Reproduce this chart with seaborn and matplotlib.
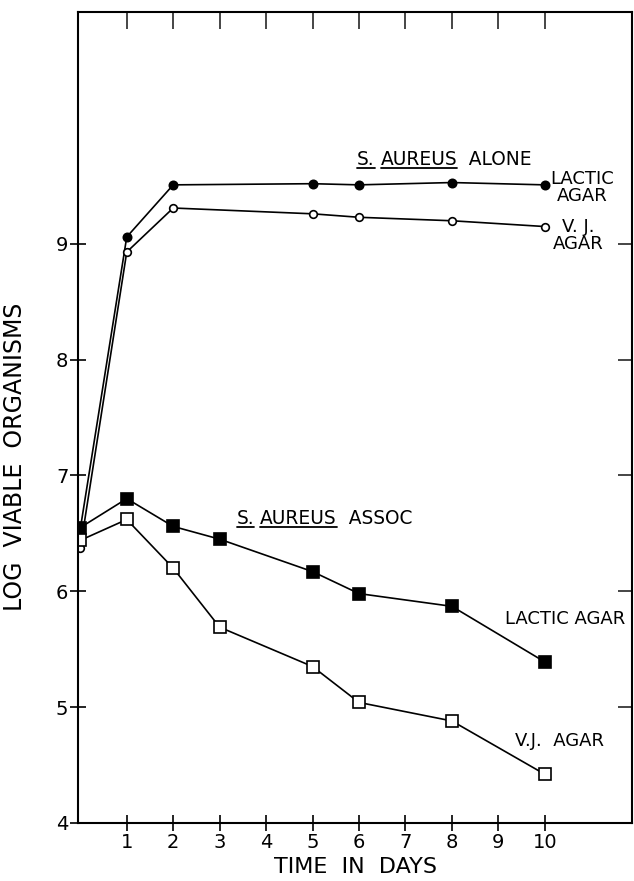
import numpy as np
import pandas as pd
import seaborn as sns
import matplotlib.pyplot as plt
from matplotlib.lines import Line2D

# data
days_alone = [0, 1, 2, 5, 6, 8, 10]
alone_lactic = [6.54, 9.06, 9.51, 9.52, 9.51, 9.53, 9.51]
alone_vj = [6.37, 8.93, 9.31, 9.26, 9.23, 9.20, 9.15]

days_assoc = [0, 1, 2, 3, 5, 6, 8, 10]
assoc_lactic = [6.55, 6.80, 6.56, 6.45, 6.17, 5.98, 5.87, 5.39]
assoc_vj = [6.44, 6.62, 6.20, 5.69, 5.35, 5.04, 4.88, 4.42]

x_ticks = list(range(1, 11))
y_ticks = [4, 5, 6, 7, 8, 9]

sns.set_theme(style="ticks")
plt.rcParams['font.family'] = ['DejaVu Sans']
plt.rcParams['text.color'] = 'black'
plt.rcParams['axes.labelcolor'] = 'black'

fig = plt.figure(figsize=(6.34, 8.81), dpi=100)
ax = fig.add_axes([0.123, 0.066, 0.874, 0.920])

series = [
    (days_alone, alone_lactic, 'o', 'black', 6),
    (days_alone, alone_vj, 'o', 'white', 5.5),
    (days_assoc, assoc_lactic, 's', 'black', 8),
    (days_assoc, assoc_vj, 's', 'white', 8),
]
for xs, ys, mk, fc, ms in series:
    sns.lineplot(x=xs, y=ys, ax=ax, color='black', linewidth=1.2,
                 marker=mk, markerfacecolor=fc, markeredgecolor='black',
                 markeredgewidth=1.2, markersize=ms)

ax.set_xlim(-0.05, 11.88)
ax.set_ylim(4, 11)
ax.set_xticks(x_ticks)
ax.set_yticks(y_ticks)
ax.set_yticklabels([str(v) for v in y_ticks])
ax.tick_params(direction='inout', length=12, width=1.2, labelsize=14, pad=1,
               color='black', labelcolor='black')
for s in ax.spines.values():
    s.set_linewidth(1.5)
    s.set_color('black')

top = ax.secondary_xaxis('top')
top.set_xticks(x_ticks)
top.tick_params(direction='in', length=12, width=1.2, labeltop=False)
right = ax.secondary_yaxis('right')
right.set_yticks([5, 6, 7, 8, 9])
right.tick_params(direction='in', length=10, width=1.2, labelright=False)

ax.set_xlabel('TIME  IN  DAYS', fontsize=16, labelpad=4)
ax.set_ylabel('LOG  VIABLE  ORGANISMS', fontsize=17)
ax.yaxis.set_label_coords(-0.092, 0.452)

fs = 13
tfs = 13.4


# group titles with underlined parts
def underlined_title(x, y, parts):
    cur = x
    W, H = fig.get_figwidth() * fig.dpi, fig.get_figheight() * fig.dpi
    for txt, ul in parts:
        t = ax.text(cur, y, txt, fontsize=tfs, ha='left', va='baseline')
        fig.canvas.draw()
        bb = t.get_window_extent()
        base_px = ax.transData.transform((cur, y))[1]
        cur = ax.transData.inverted().transform((bb.x1, bb.y0))[0]
        if ul:
            fig.add_artist(Line2D([bb.x0 / W, bb.x1 / W], [(base_px - 3) / H] * 2,
                                  color='black', linewidth=1.3))


underlined_title(5.96, 9.68, [('S.', True), (' ', False), ('AUREUS', True), ('  ALONE', False)])
underlined_title(3.37, 6.58, [('S.', True), (' ', False), ('AUREUS', True), ('  ASSOC', False)])

ax.text(10.12, 9.49, 'LACTIC\nAGAR', fontsize=fs, ha='left', va='center',
        multialignment='center', linespacing=0.95)
ax.text(10.17, 9.07, 'V. J.\nAGAR', fontsize=fs, ha='left', va='center',
        multialignment='center', linespacing=0.95)
ax.text(9.15, 5.76, 'LACTIC AGAR', fontsize=fs, ha='left', va='center')
ax.text(9.35, 4.71, 'V.J.  AGAR', fontsize=fs, ha='left', va='center')

fig.savefig('out.png', dpi=100, facecolor='white')
